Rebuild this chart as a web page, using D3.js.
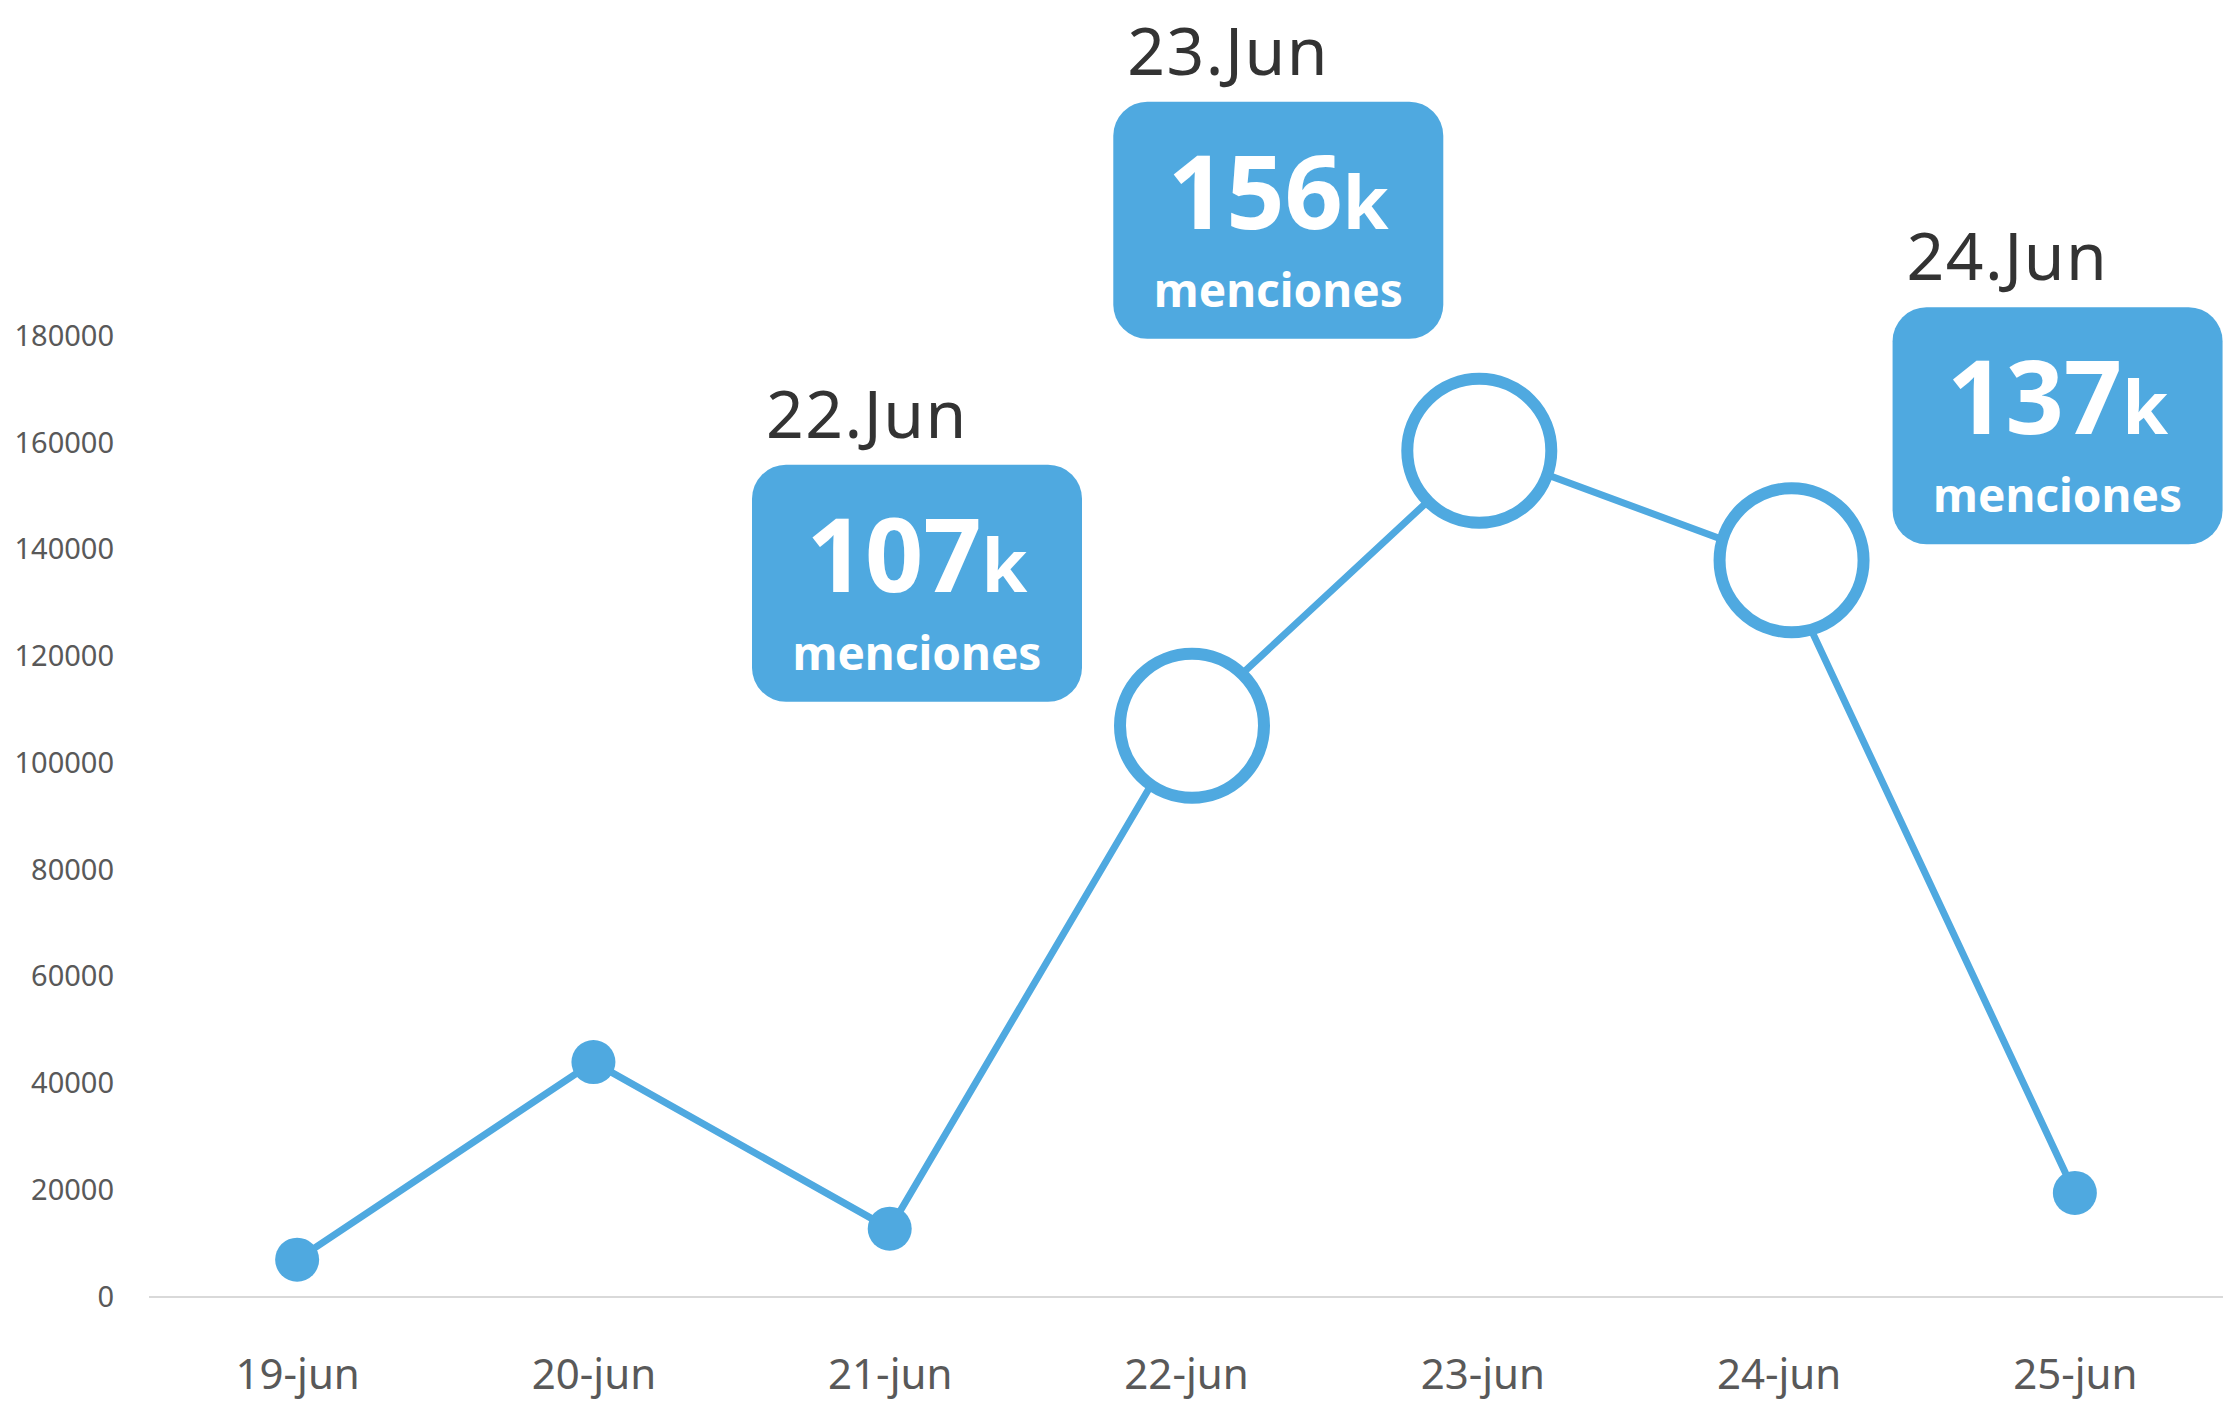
<!DOCTYPE html>
<html>
<head>
<meta charset="utf-8">
<script src="https://cdn.jsdelivr.net/npm/d3@7"></script>
<style>
  body { margin: 0; background: #fff; }
  text { font-family: "Noto Sans", "Open Sans", sans-serif; }
</style>
</head>
<body>
<div id="chart"></div>
<script>
// data
const dates = ["19-jun", "20-jun", "21-jun", "22-jun", "23-jun", "24-jun", "25-jun"];
const mentions = [7000, 44000, 12800, 107000, 158500, 138000, 19500];
const yTicks = [0, 20000, 40000, 60000, 80000, 100000, 120000, 140000, 160000, 180000];

// callouts
const calloutDates = ["22-jun", "23-jun", "24-jun"];
const calloutTitles = ["22.Jun", "23.Jun", "24.Jun"];
const calloutNumbers = ["107", "156", "137"];

const blue = "#4FA9E0";

const W = 2227, H = 1403;
const margin = {top: 336, right: 4, bottom: 106, left: 149},
    width = W - margin.left - margin.right,
    height = H - margin.top - margin.bottom;

const svg = d3.select("#chart")
    .append("svg")
    .attr("width", W)
    .attr("height", H)
    .append("g")
    .attr("transform", `translate(${margin.left},${margin.top})`);

const xScale = d3.scalePoint()
    .domain(dates)
    .range([0, width])
    .padding(0.5);

const yScale = d3.scaleLinear()
    .domain([0, 180000])
    .range([height, 0]);

// y labels, no axis line
svg.append("g")
    .attr("transform", "translate(-35,0)")
    .call(d3.axisLeft(yScale).tickValues(yTicks).tickSize(0).tickPadding(0).tickFormat(d3.format("d")))
    .call(g => g.select(".domain").remove())
    .selectAll("text")
    .attr("fill", "#595959")
    .attr("font-size", "29px")
    .style("font-family", "'Noto Sans', sans-serif");

// baseline
svg.append("line")
    .attr("x1", 0)
    .attr("x2", width)
    .attr("y1", yScale(0))
    .attr("y2", yScale(0))
    .attr("stroke", "#d9d9d9")
    .attr("stroke-width", 2);

// x labels
svg.append("g")
    .attr("transform", `translate(0,${height})`)
    .call(d3.axisBottom(xScale).tickSize(0).tickPadding(62))
    .call(g => g.select(".domain").remove())
    .selectAll("text")
    .attr("fill", "#595959")
    .attr("font-size", "42px")
    .style("font-family", "'Noto Sans', sans-serif");

const points = dates.map((d, i) => ({date: d, value: mentions[i]}));

const line = d3.line()
    .x(d => xScale(d.date))
    .y(d => yScale(d.value));

svg.append("path")
    .datum(points)
    .attr("d", line)
    .attr("fill", "none")
    .attr("stroke", blue)
    .attr("stroke-width", 7);

// small filled dots for the ordinary days
svg.selectAll(".dot")
    .data(points.filter(d => !calloutDates.includes(d.date)))
    .enter()
    .append("circle")
    .attr("class", "dot")
    .attr("cx", d => xScale(d.date))
    .attr("cy", d => yScale(d.value))
    .attr("r", 22)
    .attr("fill", blue);

// big rings on the highlighted days (slightly nudged like the original)
const ringNudge = [6, -3, 13];
svg.selectAll(".ring")
    .data(points.filter(d => calloutDates.includes(d.date)))
    .enter()
    .append("circle")
    .attr("class", "ring")
    .attr("cx", (d, i) => xScale(d.date) + ringNudge[i])
    .attr("cy", d => yScale(d.value))
    .attr("r", 72)
    .attr("fill", "#fff")
    .attr("stroke", blue)
    .attr("stroke-width", 12);

// callout boxes, placed relative to their point
const boxW = 330, boxH = 237;
const offsets = [[-434, -261], [-369, -349], [114, -253]];

calloutDates.forEach((date, i) => {
    const v = mentions[dates.indexOf(date)];
    const bx = xScale(date) + offsets[i][0];
    const by = yScale(v) + offsets[i][1];
    const g = svg.append("g").attr("transform", `translate(${bx},${by})`);

    g.append("text")
        .attr("x", 14)
        .attr("y", -27)
        .attr("fill", "#333")
        .attr("font-size", "66px")
        .attr("letter-spacing", "1.5px")
        .text(calloutTitles[i]);

    g.append("rect")
        .attr("width", boxW)
        .attr("height", boxH)
        .attr("rx", 34)
        .attr("fill", blue);

    const big = g.append("text")
        .attr("x", boxW / 2)
        .attr("y", 127)
        .attr("text-anchor", "middle")
        .attr("fill", "#fff")
        .attr("font-weight", "bold");
    big.append("tspan").attr("font-size", "102px").text(calloutNumbers[i]);
    big.append("tspan").attr("font-size", "74px").text("k");

    g.append("text")
        .attr("x", boxW / 2)
        .attr("y", 205)
        .attr("text-anchor", "middle")
        .attr("fill", "#fff")
        .attr("font-weight", "bold")
        .attr("font-size", "46px")
        .text("menciones");
});
</script>
</body>
</html>
